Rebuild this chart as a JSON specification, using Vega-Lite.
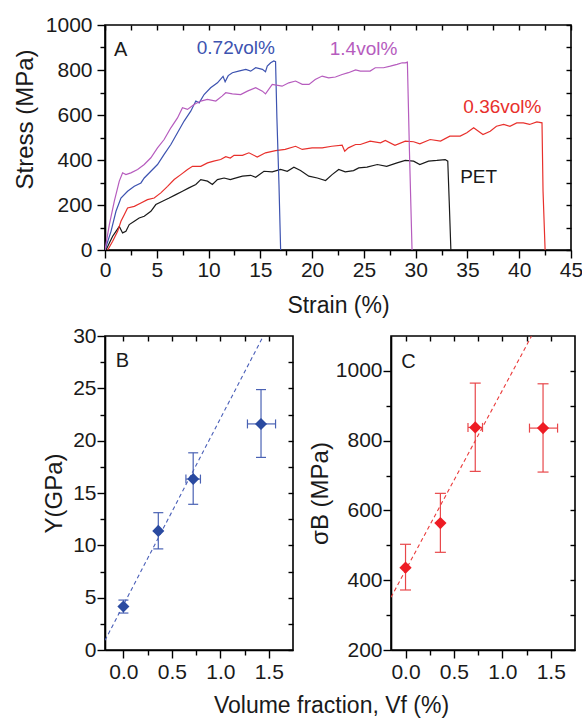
{
"$schema": "https://vega.github.io/schema/vega-lite/v6.json",
"padding": {"left": 12, "top": 13, "right": 0, "bottom": 0},
"config": {
  "view": {"stroke": "#000000", "strokeWidth": 1.6},
  "font": "Liberation Sans",
  "axis": {"labelFont": "Liberation Sans", "titleFont": "Liberation Sans", "labelFontSize": 21, "titleFontSize": 23, "titleFontWeight": "normal", "labelColor": "#1a1a1a", "titleColor": "#1a1a1a", "domainColor": "#000000", "domainWidth": 1.6, "tickColor": "#000000", "tickWidth": 1.4, "grid": false, "labelFlush": false, "labelOverlap": false}
},
"datasets": {
  "curves": [
    {"series":"PET","strain":0.1,"stress":0},{"series":"PET","strain":0.42,"stress":31},{"series":"PET","strain":0.74,"stress":61},{"series":"PET","strain":1.06,"stress":83},{"series":"PET","strain":1.38,"stress":105},{"series":"PET","strain":1.7,"stress":76},{"series":"PET","strain":2.02,"stress":83},{"series":"PET","strain":2.34,"stress":113},{"series":"PET","strain":2.83,"stress":128},{"series":"PET","strain":3.3,"stress":142},{"series":"PET","strain":3.79,"stress":150},{"series":"PET","strain":4.43,"stress":172},{"series":"PET","strain":4.91,"stress":202},{"series":"PET","strain":5.55,"stress":217},{"series":"PET","strain":6.2,"stress":231},{"series":"PET","strain":6.84,"stress":246},{"series":"PET","strain":7.48,"stress":261},{"series":"PET","strain":8.1,"stress":276},{"series":"PET","strain":8.77,"stress":291},{"series":"PET","strain":9.25,"stress":313},{"series":"PET","strain":9.9,"stress":306},{"series":"PET","strain":10.37,"stress":291},{"series":"PET","strain":10.86,"stress":313},{"series":"PET","strain":11.5,"stress":320},{"series":"PET","strain":12.1,"stress":313},{"series":"PET","strain":12.5,"stress":318},{"series":"PET","strain":13.27,"stress":328},{"series":"PET","strain":14.07,"stress":332},{"series":"PET","strain":14.55,"stress":323},{"series":"PET","strain":15.35,"stress":350},{"series":"PET","strain":16.15,"stress":347},{"series":"PET","strain":16.96,"stress":358},{"series":"PET","strain":17.6,"stress":350},{"series":"PET","strain":18.24,"stress":368},{"series":"PET","strain":18.88,"stress":353},{"series":"PET","strain":19.68,"stress":328},{"series":"PET","strain":20.5,"stress":320},{"series":"PET","strain":21.3,"stress":309},{"series":"PET","strain":21.93,"stress":335},{"series":"PET","strain":22.57,"stress":358},{"series":"PET","strain":23.2,"stress":347},{"series":"PET","strain":24.0,"stress":353},{"series":"PET","strain":24.5,"stress":365},{"series":"PET","strain":25.3,"stress":368},{"series":"PET","strain":26.3,"stress":380},{"series":"PET","strain":27.2,"stress":372},{"series":"PET","strain":28.2,"stress":387},{"series":"PET","strain":29.0,"stress":398},{"series":"PET","strain":29.8,"stress":395},{"series":"PET","strain":30.4,"stress":380},{"series":"PET","strain":31.24,"stress":395},{"series":"PET","strain":32.05,"stress":398},{"series":"PET","strain":32.85,"stress":402},{"series":"PET","strain":33.1,"stress":395},{"series":"PET","strain":33.24,"stress":217},{"series":"PET","strain":33.4,"stress":0},
    {"series":"0.36vol%","strain":0.26,"stress":0},{"series":"0.36vol%","strain":0.74,"stress":39},{"series":"0.36vol%","strain":1.22,"stress":83},{"series":"0.36vol%","strain":1.54,"stress":128},{"series":"0.36vol%","strain":1.86,"stress":157},{"series":"0.36vol%","strain":2.18,"stress":187},{"series":"0.36vol%","strain":2.83,"stress":194},{"series":"0.36vol%","strain":3.47,"stress":209},{"series":"0.36vol%","strain":4.1,"stress":224},{"series":"0.36vol%","strain":4.75,"stress":231},{"series":"0.36vol%","strain":5.39,"stress":254},{"series":"0.36vol%","strain":6.04,"stress":283},{"series":"0.36vol%","strain":6.68,"stress":313},{"series":"0.36vol%","strain":7.32,"stress":335},{"series":"0.36vol%","strain":7.97,"stress":358},{"series":"0.36vol%","strain":8.45,"stress":372},{"series":"0.36vol%","strain":9.25,"stress":372},{"series":"0.36vol%","strain":9.9,"stress":387},{"series":"0.36vol%","strain":10.5,"stress":395},{"series":"0.36vol%","strain":11.17,"stress":402},{"series":"0.36vol%","strain":11.66,"stress":415},{"series":"0.36vol%","strain":12.1,"stress":409},{"series":"0.36vol%","strain":12.46,"stress":421},{"series":"0.36vol%","strain":13.27,"stress":421},{"series":"0.36vol%","strain":13.9,"stress":432},{"series":"0.36vol%","strain":14.7,"stress":413},{"series":"0.36vol%","strain":15.5,"stress":432},{"series":"0.36vol%","strain":16.47,"stress":442},{"series":"0.36vol%","strain":17.4,"stress":447},{"series":"0.36vol%","strain":18.4,"stress":461},{"series":"0.36vol%","strain":19.05,"stress":447},{"series":"0.36vol%","strain":20.0,"stress":454},{"series":"0.36vol%","strain":20.97,"stress":454},{"series":"0.36vol%","strain":21.9,"stress":461},{"series":"0.36vol%","strain":22.9,"stress":466},{"series":"0.36vol%","strain":23.15,"stress":439},{"series":"0.36vol%","strain":23.5,"stress":454},{"series":"0.36vol%","strain":24.2,"stress":469},{"series":"0.36vol%","strain":24.66,"stress":469},{"series":"0.36vol%","strain":25.6,"stress":484},{"series":"0.36vol%","strain":26.6,"stress":476},{"series":"0.36vol%","strain":27.07,"stress":487},{"series":"0.36vol%","strain":28.0,"stress":465},{"series":"0.36vol%","strain":29.0,"stress":484},{"series":"0.36vol%","strain":29.8,"stress":481},{"series":"0.36vol%","strain":30.4,"stress":472},{"series":"0.36vol%","strain":31.4,"stress":491},{"series":"0.36vol%","strain":32.4,"stress":484},{"series":"0.36vol%","strain":33.3,"stress":506},{"series":"0.36vol%","strain":34.3,"stress":506},{"series":"0.36vol%","strain":34.94,"stress":521},{"series":"0.36vol%","strain":35.6,"stress":543},{"series":"0.36vol%","strain":36.06,"stress":528},{"series":"0.36vol%","strain":36.5,"stress":513},{"series":"0.36vol%","strain":37.2,"stress":528},{"series":"0.36vol%","strain":37.8,"stress":550},{"series":"0.36vol%","strain":38.5,"stress":558},{"series":"0.36vol%","strain":39.1,"stress":550},{"series":"0.36vol%","strain":39.76,"stress":565},{"series":"0.36vol%","strain":40.4,"stress":565},{"series":"0.36vol%","strain":41.0,"stress":558},{"series":"0.36vol%","strain":41.7,"stress":569},{"series":"0.36vol%","strain":42.2,"stress":565},{"series":"0.36vol%","strain":42.3,"stress":261},{"series":"0.36vol%","strain":42.5,"stress":0},
    {"series":"0.72vol%","strain":0,"stress":0},{"series":"0.72vol%","strain":0.58,"stress":83},{"series":"0.72vol%","strain":1.06,"stress":172},{"series":"0.72vol%","strain":1.54,"stress":231},{"series":"0.72vol%","strain":2.18,"stress":261},{"series":"0.72vol%","strain":2.83,"stress":283},{"series":"0.72vol%","strain":3.47,"stress":298},{"series":"0.72vol%","strain":3.79,"stress":320},{"series":"0.72vol%","strain":4.43,"stress":350},{"series":"0.72vol%","strain":5.07,"stress":380},{"series":"0.72vol%","strain":5.71,"stress":425},{"series":"0.72vol%","strain":6.36,"stress":469},{"series":"0.72vol%","strain":7.0,"stress":521},{"series":"0.72vol%","strain":7.64,"stress":573},{"series":"0.72vol%","strain":8.28,"stress":617},{"series":"0.72vol%","strain":8.77,"stress":662},{"series":"0.72vol%","strain":9.09,"stress":654},{"series":"0.72vol%","strain":9.57,"stress":691},{"series":"0.72vol%","strain":10.2,"stress":721},{"series":"0.72vol%","strain":10.86,"stress":743},{"series":"0.72vol%","strain":11.4,"stress":772},{"series":"0.72vol%","strain":11.6,"stress":748},{"series":"0.72vol%","strain":11.9,"stress":775},{"series":"0.72vol%","strain":12.3,"stress":788},{"series":"0.72vol%","strain":12.9,"stress":795},{"series":"0.72vol%","strain":13.6,"stress":803},{"series":"0.72vol%","strain":14.07,"stress":795},{"series":"0.72vol%","strain":14.55,"stress":810},{"series":"0.72vol%","strain":15.2,"stress":803},{"series":"0.72vol%","strain":15.5,"stress":792},{"series":"0.72vol%","strain":15.67,"stress":817},{"series":"0.72vol%","strain":16.0,"stress":832},{"series":"0.72vol%","strain":16.3,"stress":840},{"series":"0.72vol%","strain":16.47,"stress":837},{"series":"0.72vol%","strain":16.6,"stress":587},{"series":"0.72vol%","strain":16.8,"stress":291},{"series":"0.72vol%","strain":16.96,"stress":0},
    {"series":"1.4vol%","strain":0,"stress":0},{"series":"1.4vol%","strain":0.42,"stress":113},{"series":"1.4vol%","strain":0.9,"stress":217},{"series":"1.4vol%","strain":1.38,"stress":306},{"series":"1.4vol%","strain":1.7,"stress":343},{"series":"1.4vol%","strain":2.02,"stress":335},{"series":"1.4vol%","strain":2.5,"stress":343},{"series":"1.4vol%","strain":3.15,"stress":358},{"series":"1.4vol%","strain":3.79,"stress":380},{"series":"1.4vol%","strain":4.43,"stress":410},{"series":"1.4vol%","strain":5.07,"stress":454},{"series":"1.4vol%","strain":5.71,"stress":491},{"series":"1.4vol%","strain":6.36,"stress":543},{"series":"1.4vol%","strain":7.0,"stress":587},{"series":"1.4vol%","strain":7.48,"stress":632},{"series":"1.4vol%","strain":7.97,"stress":625},{"series":"1.4vol%","strain":8.6,"stress":647},{"series":"1.4vol%","strain":9.25,"stress":662},{"series":"1.4vol%","strain":9.89,"stress":669},{"series":"1.4vol%","strain":10.7,"stress":662},{"series":"1.4vol%","strain":11.3,"stress":684},{"series":"1.4vol%","strain":11.66,"stress":699},{"series":"1.4vol%","strain":12.3,"stress":694},{"series":"1.4vol%","strain":13.1,"stress":691},{"series":"1.4vol%","strain":13.75,"stress":706},{"series":"1.4vol%","strain":14.55,"stress":721},{"series":"1.4vol%","strain":15.2,"stress":706},{"series":"1.4vol%","strain":15.5,"stress":694},{"series":"1.4vol%","strain":16.15,"stress":736},{"series":"1.4vol%","strain":17.1,"stress":728},{"series":"1.4vol%","strain":17.75,"stress":743},{"series":"1.4vol%","strain":18.4,"stress":751},{"series":"1.4vol%","strain":19.05,"stress":736},{"series":"1.4vol%","strain":19.7,"stress":736},{"series":"1.4vol%","strain":20.3,"stress":758},{"series":"1.4vol%","strain":20.97,"stress":773},{"series":"1.4vol%","strain":21.6,"stress":765},{"series":"1.4vol%","strain":22.25,"stress":769},{"series":"1.4vol%","strain":22.9,"stress":780},{"series":"1.4vol%","strain":23.5,"stress":788},{"series":"1.4vol%","strain":24.2,"stress":800},{"series":"1.4vol%","strain":24.66,"stress":795},{"series":"1.4vol%","strain":25.6,"stress":795},{"series":"1.4vol%","strain":26.1,"stress":810},{"series":"1.4vol%","strain":26.9,"stress":810},{"series":"1.4vol%","strain":27.55,"stress":817},{"series":"1.4vol%","strain":28.2,"stress":825},{"series":"1.4vol%","strain":28.7,"stress":832},{"series":"1.4vol%","strain":29.0,"stress":832},{"series":"1.4vol%","strain":29.2,"stress":835},{"series":"1.4vol%","strain":29.4,"stress":439},{"series":"1.4vol%","strain":29.65,"stress":0}
  ],
  "curveLabels": [
    {"label":"0.72vol%","series":"0.72vol%","strain":8.86,"stress":900},
    {"label":"1.4vol%","series":"1.4vol%","strain":21.7,"stress":895},
    {"label":"0.36vol%","series":"0.36vol%","strain":34.6,"stress":637},
    {"label":"PET","series":"PET","strain":34.3,"stress":326}
  ],
  "letterA": [{"label":"A","strain":0.87,"stress":891}],
  "modB": [
    {"x":0,"y":4.16,"ylo":3.53,"yhi":4.77,"xlo":0,"xhi":0},
    {"x":0.36,"y":11.38,"ylo":9.66,"yhi":13.12,"xlo":0.36,"xhi":0.36},
    {"x":0.72,"y":16.33,"ylo":13.92,"yhi":18.84,"xlo":0.645,"xhi":0.795},
    {"x":1.42,"y":21.6,"ylo":18.4,"yhi":24.88,"xlo":1.28,"xhi":1.57}
  ],
  "fitB": [{"x":-0.19,"y":0.92},{"x":1.441,"y":29.95}],
  "letterB": [{"label":"B","x":-0.08,"y":27.6}],
  "strC": [
    {"x":0,"y":436,"ylo":372,"yhi":503,"xlo":0,"xhi":0},
    {"x":0.36,"y":564,"ylo":480,"yhi":649,"xlo":0.36,"xhi":0.36},
    {"x":0.72,"y":838,"ylo":712,"yhi":965,"xlo":0.645,"xhi":0.795},
    {"x":1.42,"y":836,"ylo":710,"yhi":963,"xlo":1.28,"xhi":1.57}
  ],
  "fitC": [{"x":-0.15,"y":351},{"x":1.3,"y":1099}],
  "letterC": [{"label":"C","x":-0.044,"y":1026}]
},
"bounds": "flush",
"spacing": 86,
"vconcat": [
  {
    "width": 466, "height": 225,
    "resolve": {"axis": {"x": "independent", "y": "independent"}},
    "layer": [
      {
        "data": {"name": "curves"},
        "mark": {"type": "line", "strokeWidth": 1.2, "clip": true},
        "encoding": {
          "x": {"field": "strain", "type": "quantitative", "scale": {"domain": [0, 45], "nice": false, "zero": false},
                "axis": {"orient": "bottom", "values": [0,5,10,15,20,25,30,35,40,45], "format": "d", "title": "Strain (%)", "tickSize": 8, "labelPadding": 1, "titlePadding": 14}},
          "y": {"field": "stress", "type": "quantitative", "scale": {"domain": [0, 1000], "nice": false},
                "axis": {"orient": "left", "values": [0,200,400,600,800,1000], "format": "d", "title": "Stress (MPa)", "tickSize": 8, "labelPadding": 5, "titlePadding": 8, "titleFontSize": 24, "titleY": 94}},
          "color": {"field": "series", "type": "nominal", "scale": {"domain": ["PET","0.36vol%","0.72vol%","1.4vol%"], "range": ["#1a1a1a","#e8302c","#3d53b0","#b65cbe"]}, "legend": null}
        }
      },
      {
        "data": {"name": "curveLabels"},
        "mark": {"type": "text", "align": "left", "baseline": "middle", "fontSize": 19, "font": "Liberation Sans"},
        "encoding": {
          "x": {"field": "strain", "type": "quantitative", "scale": {"domain": [0, 45], "nice": false, "zero": false},
                "axis": {"orient": "bottom", "values": [2.5,7.5,12.5,17.5,22.5,27.5,32.5,37.5,42.5], "labels": false, "title": null, "tickSize": 5, "domain": false}},
          "y": {"field": "stress", "type": "quantitative", "scale": {"domain": [0, 1000], "nice": false},
                "axis": {"orient": "left", "values": [100,300,500,700,900], "labels": false, "title": null, "tickSize": 5, "domain": false}},
          "text": {"field": "label"},
          "color": {"field": "series", "type": "nominal", "legend": null}
        }
      },
      {
        "data": {"name": "letterA"},
        "mark": {"type": "text", "align": "left", "baseline": "middle", "fontSize": 20, "font": "Liberation Sans", "color": "#1a1a1a"},
        "encoding": {
          "x": {"field": "strain", "type": "quantitative", "scale": {"domain": [0, 45], "nice": false, "zero": false},
                "axis": {"orient": "top", "values": [0,2.5,5,7.5,10,12.5,15,17.5,20,22.5,25,27.5,30,32.5,35,37.5,40,42.5,45], "labels": false, "title": null, "tickSize": 5, "offset": -5, "domain": false}},
          "y": {"field": "stress", "type": "quantitative", "scale": {"domain": [0, 1000], "nice": false},
                "axis": {"orient": "right", "values": [0,100,200,300,400,500,600,700,800,900,1000], "labels": false, "title": null, "tickSize": 5, "offset": -5, "domain": false}},
          "text": {"field": "label"}
        }
      }
    ]
  },
  {
    "bounds": "flush",
    "spacing": 98,
    "hconcat": [
      {
        "width": 188, "height": 314,
        "resolve": {"axis": {"x": "independent", "y": "independent"}},
        "layer": [
          {
            "data": {"name": "fitB"},
            "mark": {"type": "line", "strokeDash": [4, 3], "strokeWidth": 1.1, "color": "#4a5fb8", "clip": true},
            "encoding": {
              "x": {"field": "x", "type": "quantitative", "scale": {"domain": [-0.19, 1.75], "nice": false, "zero": false},
                    "axis": {"orient": "bottom", "values": [0, 0.5, 1, 1.5], "format": ".1f", "title": "Volume fraction, Vf (%)", "titleX": 226, "titlePadding": 12, "tickSize": 8, "labelPadding": 3}},
              "y": {"field": "y", "type": "quantitative", "scale": {"domain": [0, 30], "nice": false},
                    "axis": {"orient": "left", "values": [0,5,10,15,20,25,30], "title": "Y(GPa)", "titleFontSize": 24, "tickSize": 8, "labelPadding": 1, "titlePadding": 6}}
            }
          },
          {
            "data": {"name": "modB"},
            "mark": {"type": "rule", "color": "#4a62b4", "strokeWidth": 1.2},
            "encoding": {
              "x": {"field": "x", "type": "quantitative", "scale": {"domain": [-0.19, 1.75], "nice": false, "zero": false},
                    "axis": {"orient": "bottom", "values": [0.25, 0.75, 1.25], "labels": false, "title": null, "tickSize": 5, "domain": false}},
              "y": {"field": "ylo", "type": "quantitative", "scale": {"domain": [0, 30], "nice": false},
                    "axis": {"orient": "left", "values": [2.5,7.5,12.5,17.5,22.5,27.5], "labels": false, "title": null, "tickSize": 5, "domain": false}},
              "y2": {"field": "yhi"}
            }
          },
          {
            "data": {"name": "modB"},
            "transform": [{"filter": "datum.xhi > datum.xlo"}],
            "mark": {"type": "rule", "color": "#4a62b4", "strokeWidth": 1.2},
            "encoding": {
              "x": {"field": "xlo", "type": "quantitative", "axis": null},
              "x2": {"field": "xhi"},
              "y": {"field": "y", "type": "quantitative", "axis": null}
            }
          },
          {
            "data": {"name": "modB"},
            "mark": {"type": "tick", "orient": "horizontal", "size": 10, "thickness": 1.2, "color": "#4a62b4", "opacity": 1},
            "encoding": {
              "x": {"field": "x", "type": "quantitative", "axis": null},
              "y": {"field": "ylo", "type": "quantitative", "axis": null}
            }
          },
          {
            "data": {"name": "modB"},
            "mark": {"type": "tick", "orient": "horizontal", "size": 10, "thickness": 1.2, "color": "#4a62b4", "opacity": 1},
            "encoding": {
              "x": {"field": "x", "type": "quantitative", "axis": null},
              "y": {"field": "yhi", "type": "quantitative", "axis": null}
            }
          },
          {
            "data": {"name": "modB"},
            "transform": [{"filter": "datum.xhi > datum.xlo"}],
            "mark": {"type": "tick", "orient": "vertical", "size": 9, "thickness": 1.2, "color": "#4a62b4", "opacity": 1},
            "encoding": {
              "x": {"field": "xlo", "type": "quantitative", "axis": null},
              "y": {"field": "y", "type": "quantitative", "axis": null}
            }
          },
          {
            "data": {"name": "modB"},
            "transform": [{"filter": "datum.xhi > datum.xlo"}],
            "mark": {"type": "tick", "orient": "vertical", "size": 9, "thickness": 1.2, "color": "#4a62b4", "opacity": 1},
            "encoding": {
              "x": {"field": "xhi", "type": "quantitative", "axis": null},
              "y": {"field": "y", "type": "quantitative", "axis": null}
            }
          },
          {
            "data": {"name": "modB"},
            "mark": {"type": "point", "shape": "diamond", "filled": true, "size": 145, "color": "#2a4aa0", "opacity": 1},
            "encoding": {
              "x": {"field": "x", "type": "quantitative", "scale": {"domain": [-0.19, 1.75], "nice": false, "zero": false},
                    "axis": {"orient": "top", "values": [0,0.25,0.5,0.75,1,1.25,1.5], "labels": false, "title": null, "tickSize": 5, "offset": -5, "domain": false}},
              "y": {"field": "y", "type": "quantitative", "scale": {"domain": [0, 30], "nice": false},
                    "axis": {"orient": "right", "values": [0,2.5,5,7.5,10,12.5,15,17.5,20,22.5,25,27.5], "labels": false, "title": null, "tickSize": 5, "offset": -5, "domain": false}}
            }
          },
          {
            "data": {"name": "letterB"},
            "mark": {"type": "text", "align": "left", "baseline": "middle", "fontSize": 20, "font": "Liberation Sans", "color": "#1a1a1a"},
            "encoding": {
              "x": {"field": "x", "type": "quantitative", "axis": null},
              "y": {"field": "y", "type": "quantitative", "axis": null},
              "text": {"field": "label"}
            }
          }
        ]
      },
      {
        "width": 184, "height": 314,
        "resolve": {"axis": {"x": "independent", "y": "independent"}},
        "layer": [
          {
            "data": {"name": "fitC"},
            "mark": {"type": "line", "strokeDash": [4, 3], "strokeWidth": 1.1, "color": "#ea3b3b", "clip": true},
            "encoding": {
              "x": {"field": "x", "type": "quantitative", "scale": {"domain": [-0.15, 1.75], "nice": false, "zero": false},
                    "axis": {"orient": "bottom", "values": [0, 0.5, 1, 1.5], "format": ".1f", "title": null, "tickSize": 8, "labelPadding": 3}},
              "y": {"field": "y", "type": "quantitative", "scale": {"domain": [200, 1100], "nice": false, "zero": false},
                    "axis": {"orient": "left", "values": [200,400,600,800,1000], "format": "d", "title": "σB (MPa)", "titleFontSize": 24, "tickSize": 8, "labelPadding": 1, "titlePadding": 3}}
            }
          },
          {
            "data": {"name": "strC"},
            "mark": {"type": "rule", "color": "#e8474a", "strokeWidth": 1.2},
            "encoding": {
              "x": {"field": "x", "type": "quantitative", "scale": {"domain": [-0.15, 1.75], "nice": false, "zero": false},
                    "axis": {"orient": "bottom", "values": [0.25, 0.75, 1.25], "labels": false, "title": null, "tickSize": 5, "domain": false}},
              "y": {"field": "ylo", "type": "quantitative", "scale": {"domain": [200, 1100], "nice": false, "zero": false},
                    "axis": {"orient": "left", "values": [300,500,700,900], "labels": false, "title": null, "tickSize": 5, "domain": false}},
              "y2": {"field": "yhi"}
            }
          },
          {
            "data": {"name": "strC"},
            "transform": [{"filter": "datum.xhi > datum.xlo"}],
            "mark": {"type": "rule", "color": "#e8474a", "strokeWidth": 1.2},
            "encoding": {
              "x": {"field": "xlo", "type": "quantitative", "axis": null},
              "x2": {"field": "xhi"},
              "y": {"field": "y", "type": "quantitative", "axis": null}
            }
          },
          {
            "data": {"name": "strC"},
            "mark": {"type": "tick", "orient": "horizontal", "size": 11, "thickness": 1.2, "color": "#e8474a", "opacity": 1},
            "encoding": {
              "x": {"field": "x", "type": "quantitative", "axis": null},
              "y": {"field": "ylo", "type": "quantitative", "axis": null}
            }
          },
          {
            "data": {"name": "strC"},
            "mark": {"type": "tick", "orient": "horizontal", "size": 11, "thickness": 1.2, "color": "#e8474a", "opacity": 1},
            "encoding": {
              "x": {"field": "x", "type": "quantitative", "axis": null},
              "y": {"field": "yhi", "type": "quantitative", "axis": null}
            }
          },
          {
            "data": {"name": "strC"},
            "transform": [{"filter": "datum.xhi > datum.xlo"}],
            "mark": {"type": "tick", "orient": "vertical", "size": 9, "thickness": 1.2, "color": "#e8474a", "opacity": 1},
            "encoding": {
              "x": {"field": "xlo", "type": "quantitative", "axis": null},
              "y": {"field": "y", "type": "quantitative", "axis": null}
            }
          },
          {
            "data": {"name": "strC"},
            "transform": [{"filter": "datum.xhi > datum.xlo"}],
            "mark": {"type": "tick", "orient": "vertical", "size": 9, "thickness": 1.2, "color": "#e8474a", "opacity": 1},
            "encoding": {
              "x": {"field": "xhi", "type": "quantitative", "axis": null},
              "y": {"field": "y", "type": "quantitative", "axis": null}
            }
          },
          {
            "data": {"name": "strC"},
            "mark": {"type": "point", "shape": "diamond", "filled": true, "size": 150, "color": "#ee1c24", "opacity": 1},
            "encoding": {
              "x": {"field": "x", "type": "quantitative", "scale": {"domain": [-0.15, 1.75], "nice": false, "zero": false},
                    "axis": {"orient": "top", "values": [0,0.25,0.5,0.75,1,1.25,1.5], "labels": false, "title": null, "tickSize": 5, "offset": -5, "domain": false}},
              "y": {"field": "y", "type": "quantitative", "scale": {"domain": [200, 1100], "nice": false, "zero": false},
                    "axis": {"orient": "right", "values": [200,300,400,500,600,700,800,900,1000], "labels": false, "title": null, "tickSize": 5, "offset": -5, "domain": false}}
            }
          },
          {
            "data": {"name": "letterC"},
            "mark": {"type": "text", "align": "left", "baseline": "middle", "fontSize": 20, "font": "Liberation Sans", "color": "#1a1a1a"},
            "encoding": {
              "x": {"field": "x", "type": "quantitative", "axis": null},
              "y": {"field": "y", "type": "quantitative", "axis": null},
              "text": {"field": "label"}
            }
          }
        ]
      }
    ]
  }
]
}
